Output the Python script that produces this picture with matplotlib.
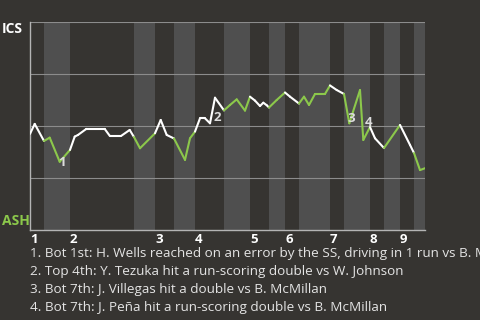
import matplotlib
matplotlib.use("Agg")
import matplotlib.pyplot as plt

# win probability for ICS (away) over the game, x = plate appearance count
pa = [0, 0.94, 2.8, 3.94, 5.94, 6.26, 8.0, 8.94, 9.6, 11.26, 14.94, 15.94, 18.26,
      19.94, 20.8, 22, 25, 26.14, 27.34, 28.8, 31, 32, 33, 34, 35, 36, 37, 38.8,
      40, 41.34, 43, 44, 45, 46, 46.66, 47.34, 47.8, 49.34, 51, 52, 53.8, 54.8,
      55.8, 57, 59, 60, 61.34, 62.8, 63.86, 66, 66.66, 68, 69, 70.8, 74, 76,
      76.8, 78, 79]
wp = [0.462, 0.510, 0.428, 0.444, 0.328, 0.337, 0.385, 0.449, 0.457, 0.486,
      0.486, 0.453, 0.453, 0.481, 0.447, 0.393, 0.465, 0.529, 0.457, 0.440,
      0.337, 0.441, 0.473, 0.537, 0.537, 0.513, 0.636, 0.575, 0.601, 0.628,
      0.574, 0.641, 0.622, 0.596, 0.612, 0.600, 0.589, 0.625, 0.661, 0.641,
      0.608, 0.641, 0.601, 0.654, 0.654, 0.695, 0.673, 0.654, 0.513, 0.673,
      0.433, 0.495, 0.441, 0.394, 0.505, 0.409, 0.370, 0.288, 0.297]

# start of each half inning (top 1st, bot 1st, top 2nd, ...)
half_starts = [0, 2.8, 8, 20.8, 25, 28.8, 33, 38.8, 44, 47.8, 51, 53.8, 60,
               62.8, 68, 70.8, 74, 76.8]
game_end = 79
innings = ['1', '2', '3', '4', '5', '6', '7', '8', '9']

marks = ['1', '2', '3', '4']
mark_x = [6.5, 37.5, 64.3, 67.7]
mark_y = [0.325, 0.543, 0.538, 0.515]
notes = [
    "1. Bot 1st: H. Wells reached on an error by the SS, driving in 1 run vs B. McMillan",
    "2. Top 4th: Y. Tezuka hit a run-scoring double vs W. Johnson",
    "3. Bot 7th: J. Villegas hit a double vs B. McMillan",
    "4. Bot 7th: J. Peña hit a run-scoring double vs B. McMillan",
]

bg = '#363431'
shade = '#4f4f4f'
green = '#8cc84b'
white = '#ffffff'
font = ['Open Sans', 'DejaVu Sans']

plt.rcParams['font.family'] = font

fig = plt.figure(figsize=(4.8, 3.2), dpi=100, facecolor=bg)
ax = fig.add_axes([30/480, 1-230/320, 395/480, 208/320])
ax.set_facecolor(bg)

ends = half_starts[1:] + [game_end]
for k, (a, b) in enumerate(zip(half_starts, ends)):
    if k % 2 == 1:
        ax.axvspan(a, b, color=shade, lw=0, zorder=0)

for g in [0.25, 0.5, 0.75, 1.0]:
    ax.axhline(g, color='#8c8c8c', lw=0.8, zorder=1)

# colour each segment by who is batting
for i in range(1, len(pa)):
    half = 0
    for k, s in enumerate(half_starts):
        if pa[i] > s:
            half = k
    c = green if half % 2 == 1 else white
    ax.plot(pa[i-1:i+1], wp[i-1:i+1], color=c, lw=1.5, zorder=3,
            solid_capstyle='round')

for m, x, y in zip(marks, mark_x, mark_y):
    ax.text(x, y, m, color='#dddddd', fontsize=9.5, fontweight='bold',
            ha='center', va='center', zorder=4)

ax.set_xlim(0, game_end)
ax.set_ylim(0, 1)
ax.set_yticks([])
ax.set_xticks(half_starts[::2])
ax.set_xticklabels(innings, ha='left', color=white, fontweight='bold',
                   fontsize=9.5)
ax.tick_params(axis='x', length=0, pad=2)
for side in ['top', 'right']:
    ax.spines[side].set_visible(False)
for side in ['left', 'bottom']:
    ax.spines[side].set_color('#b4b4b4')
    ax.spines[side].set_linewidth(1.0)

fig.text(2/480, 1-29/320, 'ICS', color=white, fontweight='bold',
         fontsize=10, va='center', ha='left')
fig.text(2/480, 1-221/320, 'ASH', color=green, fontweight='bold',
         fontsize=10, va='center', ha='left')

for j, t in enumerate(notes):
    fig.text(30/480, 1-(254+17.7*j)/320, t, color='#e4e4e4', fontsize=9.7,
             va='center', ha='left')

fig.savefig('out.png', dpi=100, facecolor=bg)
